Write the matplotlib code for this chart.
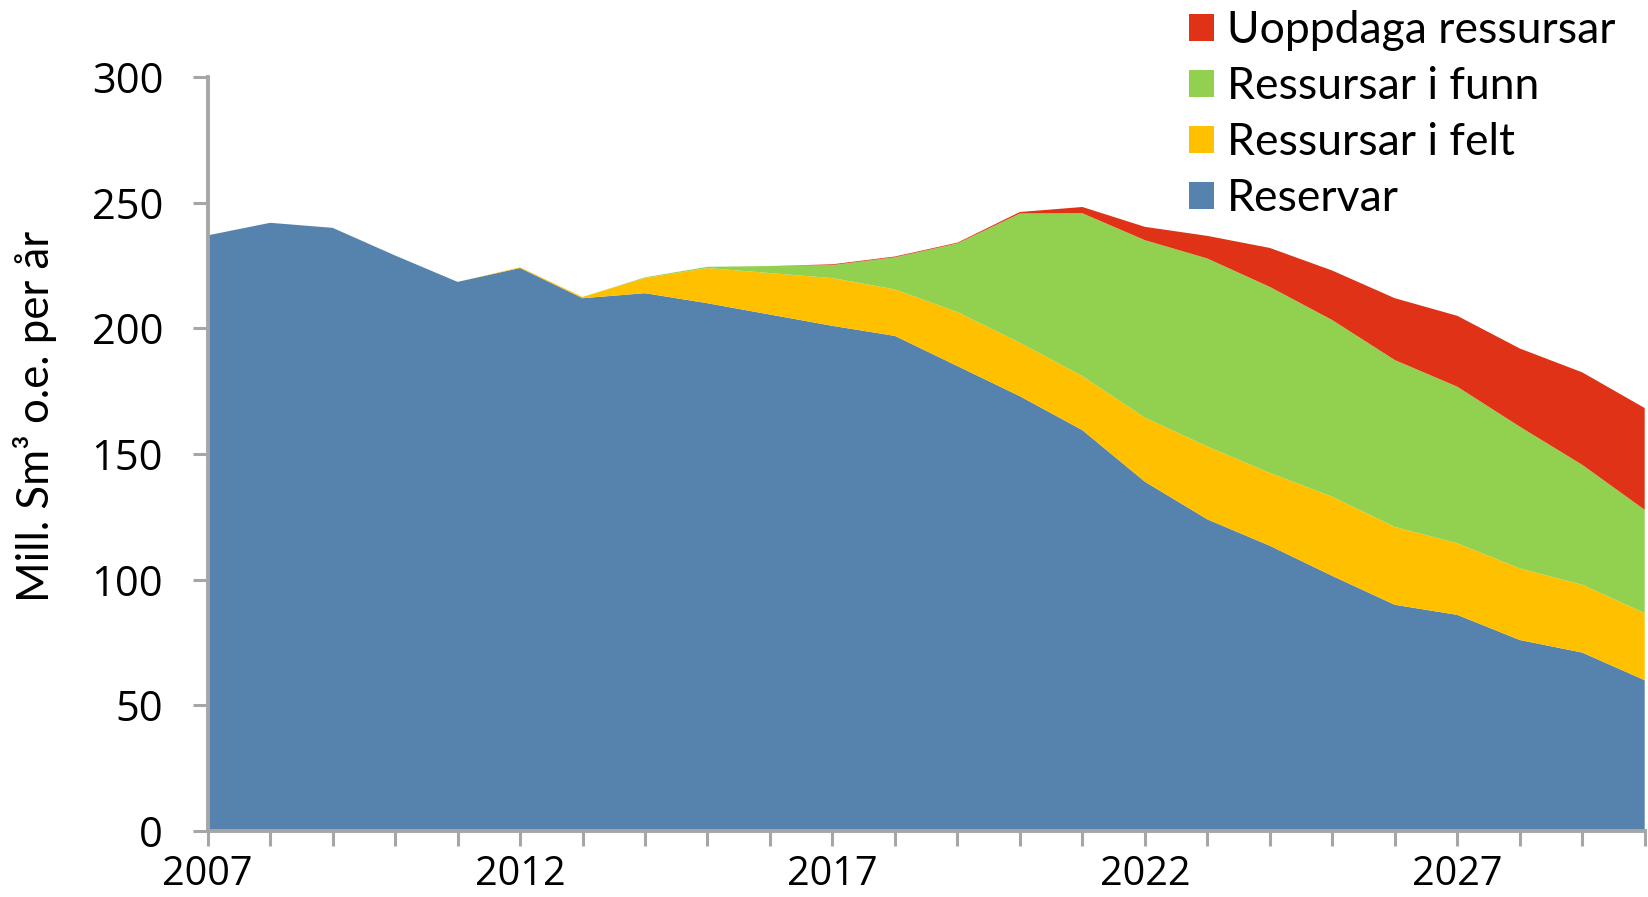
import numpy as np
import matplotlib.pyplot as plt
from matplotlib.patches import Patch
from matplotlib.ticker import MultipleLocator

years = np.arange(2007, 2031)

reservar = [237, 242, 240, 229, 218.5, 224, 212, 214, 210, 205.5, 201, 197,
            185, 173, 159.5, 139, 124, 113.5, 101.5, 90, 86, 76, 71, 60]
felt = [0, 0, 0, 0, 0, 0.3, 0.5, 6, 14, 16.5, 19, 18.5,
        21.5, 21.3, 21.5, 25.5, 29, 29, 31.5, 31, 28.5, 28.5, 27, 26.7]
funn = [0, 0, 0, 0, 0, 0, 0, 0.3, 0.5, 2.8, 5.2, 12.8,
        27.3, 51.4, 64.8, 70.6, 74.8, 74, 70.3, 66.4, 62.3, 56.4, 47.7, 41.1]
uoppdaga = [0, 0, 0, 0, 0, 0, 0, 0, 0, 0, 0.3, 0.3,
            0.3, 0.6, 2.5, 5.3, 9, 15.5, 19.7, 24.6, 28.2, 31.1, 36.8, 40.5]

labels = ["Reservar", "Ressursar i felt", "Ressursar i funn", "Uoppdaga ressursar"]
colors = ["#5683AE", "#FFC000", "#92D050", "#E03216"]

fig = plt.figure(figsize=(16.48, 8.97), dpi=100)
ax = fig.add_axes([0.126, 0.0736, 0.872, 0.8405])

ax.stackplot(years, reservar, felt, funn, uoppdaga, colors=colors, linewidth=0)

ax.set_xlim(2007, 2030)
ax.set_ylim(0, 300)
ax.yaxis.set_major_locator(MultipleLocator(50))
ax.set_xticks(years)
ax.set_xticklabels([str(y) if (y - 2007) % 5 == 0 else "" for y in years])

for s in ["top", "right"]:
    ax.spines[s].set_visible(False)
for s in ["left", "bottom"]:
    ax.spines[s].set_color("#A6A6A6")
    ax.spines[s].set_linewidth(2.8)
    ax.spines[s].set_zorder(5)

ax.tick_params(axis="both", direction="out", length=11, width=2.2, color="#A6A6A6")
ax.tick_params(axis="y", labelsize=30, pad=21)
ax.tick_params(axis="x", labelsize=28.5, pad=6)
for lab in ax.get_xticklabels() + ax.get_yticklabels():
    lab.set_family(["Open Sans", "DejaVu Sans"])

ax.set_ylabel("Mill. Sm³ o.e. per år", fontsize=31.5, family=["Lato", "DejaVu Sans"])
ax.yaxis.set_label_coords(-0.12, 0.55)
ax.yaxis.label.set_va("center")

handles = [Patch(facecolor=c, edgecolor="none") for c in colors[::-1]]
fig.legend(handles, labels[::-1], loc="upper left", bbox_to_anchor=(0.7215, 0.989),
           frameon=False, prop={"family": ["Lato", "DejaVu Sans"], "size": 32},
           borderpad=0, borderaxespad=0,
           handlelength=0.56, handleheight=0.56, handletextpad=0.3, labelspacing=0.34)

fig.savefig("out.png", dpi=100)
